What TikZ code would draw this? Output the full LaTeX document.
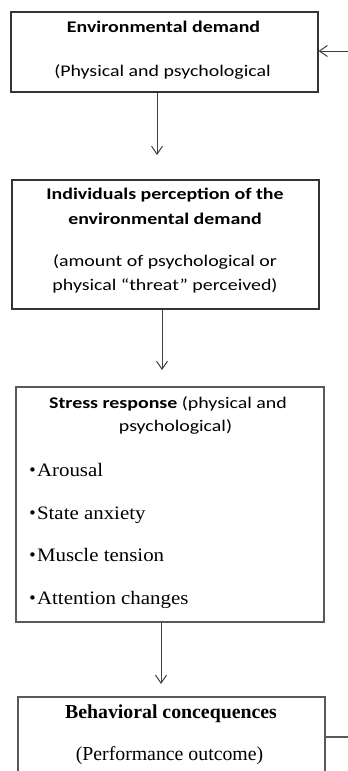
\documentclass[tikz,border=0pt]{standalone}
\usepackage{fontspec}
\setmainfont{Carlito}[FakeStretch=1.22]
\newfontfamily\serifrm{Liberation Serif}
\newfontfamily\serifwide{Liberation Serif}[FakeStretch=1.1]
\newfontfamily\dotfont{DejaVu Sans}
\usetikzlibrary{arrows.meta}
\newcommand{\blt}{{\dotfont\fontsize{15}{15}\selectfont\raisebox{0.5pt}{•}}}
\begin{document}
\begin{tikzpicture}[x=1pt,y=1pt,
  box/.style={draw=black!80, line width=1.1pt, inner sep=0pt, minimum width=307pt},
  graybox/.style={draw=black!65, line width=1.4pt, inner sep=0pt, minimum width=307pt},
  txt/.style={inner sep=0pt, anchor=mid, font=\fontsize{16.3}{19}\selectfont},
  btxt/.style={txt, font=\fontsize{16.3}{19}\selectfont\bfseries},
  stxt/.style={inner sep=0pt, anchor=mid west, font=\fontsize{19}{22}\selectfont\serifwide},
  sbtxt/.style={inner sep=0pt, anchor=mid, font=\fontsize{19.8}{22}\selectfont\serifrm\bfseries},
  stxtc/.style={inner sep=0pt, anchor=mid, font=\fontsize{19.8}{22}\selectfont\serifrm},
  arr/.style={draw=black!75, line width=1pt, -{Straight Barb[length=8pt,width=11pt,line width=1pt]}},
  plain/.style={draw=black!65, line width=1.4pt}
]
\useasboundingbox (0,0) rectangle (348,-771);

% boxes
\node[box, minimum height=80pt] (b1) at (164.5,-52) {};
\node[box, minimum height=129pt] (b2) at (165.5,-244.5) {};
\node[graybox, minimum width=308pt, minimum height=235pt] (b3) at (170,-504.5) {};
\node[graybox, minimum height=103pt] (b4) at (171.5,-748.5) {};

% box 1 text
\node[btxt] (t11) at (163.5,-30) {Environmental demand};
\node[txt] (t12) at (162.5,-74) {(Physical and psychological};

% box 2 text
\node[btxt] (t21) at (165,-197) {Individuals perception of the};
\node[btxt] (t22) at (165,-222) {environmental demand};
\node[txt] (t23) at (165,-264) {(amount of psychological or};
\node[txt] (t24) at (165,-288) {physical “threat” perceived)};

% box 3 text
\node[txt] (t31) at (168,-406) {\textbf{Stress response} (physical and};
\node[txt] (t32) at (175.5,-429) {psychological)};
\node[stxt] (t33) at (28,-474) {\blt Arousal};
\node[stxt] (t34) at (28,-517) {\blt State anxiety};
\node[stxt] (t35) at (28,-559) {\blt Muscle tension};
\node[stxt] (t36) at (28,-602) {\blt Attention changes};

% box 4 text
\node[sbtxt] (t41) at (171,-716) {Behavioral concequences};
\node[stxtc] (t42) at (169.5,-758) {(Performance outcome)};

% connectors
\coordinate (a1e) at (157,-155);
\coordinate (a2e) at (162,-370);
\coordinate (a3e) at (161,-684);
\coordinate (fin) at (348,-51);
\coordinate (fout) at (348,-737);

\draw[arr] (b1.south -| a1e) -- (a1e);
\draw[arr] (b2.south -| a2e) -- (a2e);
\draw[arr] (b3.south -| a3e) -- (a3e);
\draw[arr] (fin) -- (fin -| b1.east);
\draw[plain] (fout -| b4.east) -- (fout);
\end{tikzpicture}
\end{document}
